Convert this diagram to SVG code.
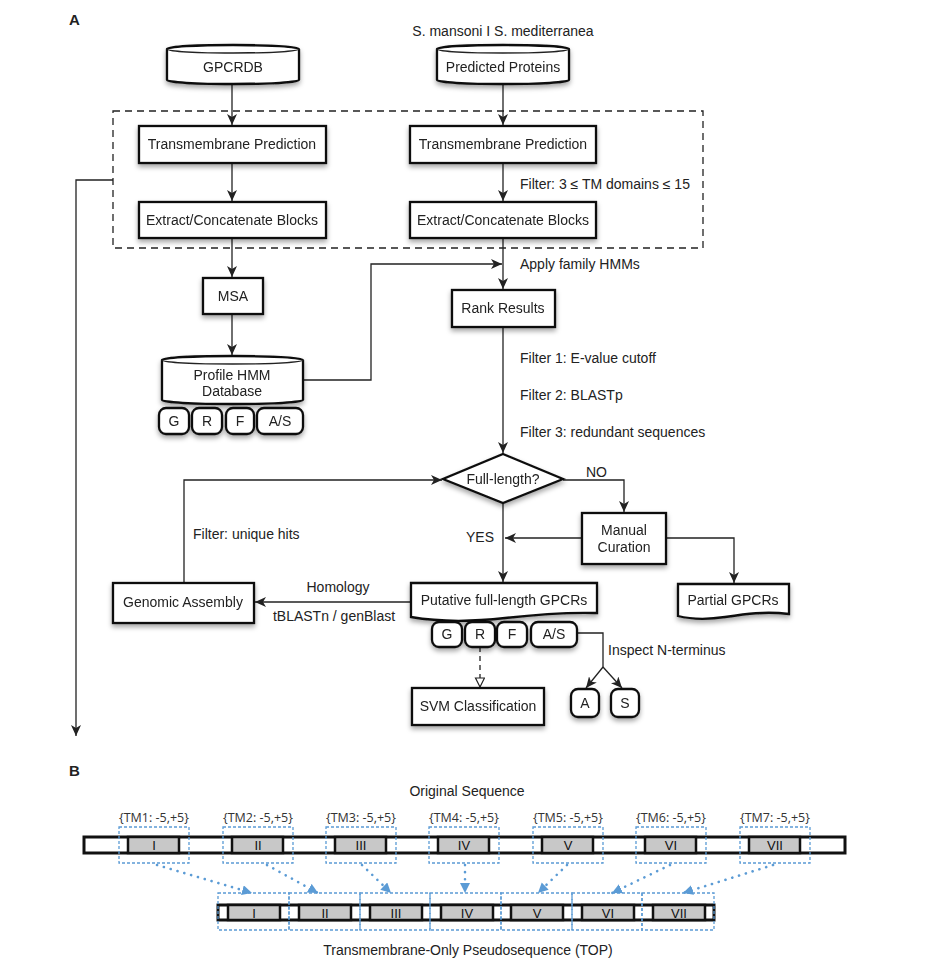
<svg xmlns="http://www.w3.org/2000/svg" width="930" height="970" viewBox="0 0 930 970">
<style>
text{font-family:"Liberation Sans",Arial,sans-serif;font-size:14px;fill:#222}
.c{text-anchor:middle}
.box{fill:#fff;stroke:#111;stroke-width:2.3}
.ln{fill:none;stroke:#222;stroke-width:1.3}
.bl{fill:none;stroke:#5b9bd5;stroke-width:1.3;stroke-dasharray:3 2}
.dot{fill:none;stroke:#5b9bd5;stroke-width:2.6;stroke-linecap:round;stroke-dasharray:0.1 7}
.gr{fill:#c8c8c8;stroke:#111;stroke-width:2.5}
.bar{fill:#fff;stroke:#111;stroke-width:3}
.tb{font-family:"Open Sans","Liberation Sans",sans-serif;font-size:12.5px;fill:#333}
.rn{font-family:"Liberation Sans",Arial,sans-serif;font-size:13px;fill:#111}
</style>
<defs>
<filter id="sh" x="-20%" y="-20%" width="140%" height="160%"><feDropShadow dx="0" dy="3" stdDeviation="2.5" flood-color="#000" flood-opacity="0.35"/></filter>
<marker id="ar" markerUnits="userSpaceOnUse" markerWidth="12" markerHeight="10" refX="11" refY="5" orient="auto"><path d="M0,0 L11,5 L0,10 L3,5 z" fill="#222"/></marker>
<marker id="ot" markerUnits="userSpaceOnUse" markerWidth="12" markerHeight="12" refX="10" refY="5" orient="auto"><path d="M1,0.5 L10,5 L1,9.5 z" fill="#fff" stroke="#222" stroke-width="1.2"/></marker>
<marker id="ba" markerUnits="userSpaceOnUse" markerWidth="12" markerHeight="12" refX="10" refY="5" orient="auto"><path d="M0,0 L10,5 L0,10 z" fill="#5b9bd5"/></marker>
</defs>
<rect width="930" height="970" fill="#fff"/>
<text x="69" y="25" style="font-weight:bold;font-size:15px">A</text>
<text x="69" y="776" style="font-weight:bold;font-size:15px">B</text>

<g id="dashed-group"><rect x="113" y="111" width="590" height="137" fill="none" stroke="#222" stroke-width="1.3" stroke-dasharray="7 5"/></g>

<g id="connectors">
<path class="ln" d="M232,85 V125" marker-end="url(#ar)"/>
<path class="ln" d="M232,163 V201" marker-end="url(#ar)"/>
<path class="ln" d="M232,239 V277" marker-end="url(#ar)"/>
<path class="ln" d="M232,315 V355" marker-end="url(#ar)"/>
<path class="ln" d="M503,85 V125" marker-end="url(#ar)"/>
<path class="ln" d="M503,163 V201" marker-end="url(#ar)"/>
<path class="ln" d="M503,239 V289" marker-end="url(#ar)"/>
<path class="ln" d="M303,380 H371 V264 H502" marker-end="url(#ar)"/>
<path class="ln" d="M503,328 V453" marker-end="url(#ar)"/>
<path class="ln" d="M563,480 H624 V512" marker-end="url(#ar)"/>
<path class="ln" d="M503,504 V582" marker-end="url(#ar)"/>
<path class="ln" d="M582,538 H505" marker-end="url(#ar)"/>
<path class="ln" d="M666,538 H734 V583" marker-end="url(#ar)"/>
<path class="ln" d="M184,583 V480 H442" marker-end="url(#ar)"/>
<path class="ln" d="M411,602 H255" marker-end="url(#ar)"/>
<path class="ln" d="M480,647 V687" stroke-dasharray="5 4" marker-end="url(#ot)"/>
<path class="ln" d="M577,633 H603 V667"/>
<path class="ln" d="M603,667 L586,688" marker-end="url(#ar)"/>
<path class="ln" d="M603,667 L622,688" marker-end="url(#ar)"/>
<path class="ln" d="M113,180 H76 V736" marker-end="url(#ar)"/>
</g>

<g id="labels">
<text class="c" x="503" y="36">S. mansoni I S. mediterranea</text>
<text x="520" y="189">Filter: 3 ≤ TM domains ≤ 15</text>
<text x="520" y="269">Apply family HMMs</text>
<text x="520" y="363">Filter 1: E-value cutoff</text>
<text x="520" y="400">Filter 2: BLASTp</text>
<text x="520" y="437">Filter 3: redundant sequences</text>
<text x="586" y="477">NO</text>
<text x="466" y="542">YES</text>
<text x="193" y="539">Filter: unique hits</text>
<text class="c" x="338" y="592">Homology</text>
<text class="c" x="334" y="621">tBLASTn / genBlast</text>
<text x="608" y="655">Inspect N-terminus</text>
</g>

<g id="gpcrdb" filter="url(#sh)">
<path class="box" d="M167,49 A66,4 0 0,1 299,49 V80 A66,4 0 0,1 167,80 Z"/>
<path class="ln" d="M167,49 A66,4 0 0,0 299,49" stroke-width="1.5"/>
<text class="c" x="233" y="72">GPCRDB</text>
</g>
<g id="predicted-proteins" filter="url(#sh)">
<path class="box" d="M437,49 A66,4 0 0,1 569,49 V80 A66,4 0 0,1 437,80 Z"/>
<path class="ln" d="M437,49 A66,4 0 0,0 569,49" stroke-width="1.5"/>
<text class="c" x="503" y="72">Predicted Proteins</text>
</g>
<g id="tm-left" filter="url(#sh)"><rect class="box" x="139" y="126" width="187" height="37"/><text class="c" x="232" y="149">Transmembrane Prediction</text></g>
<g id="extract-left" filter="url(#sh)"><rect class="box" x="139" y="202" width="187" height="36"/><text class="c" x="232" y="225">Extract/Concatenate Blocks</text></g>
<g id="tm-right" filter="url(#sh)"><rect class="box" x="410" y="126" width="186" height="37"/><text class="c" x="503" y="149">Transmembrane Prediction</text></g>
<g id="extract-right" filter="url(#sh)"><rect class="box" x="410" y="202" width="186" height="36"/><text class="c" x="503" y="225">Extract/Concatenate Blocks</text></g>
<g id="msa" filter="url(#sh)"><rect class="box" x="203" y="278" width="60" height="36"/><text class="c" x="233" y="301">MSA</text></g>
<g id="profile-hmm" filter="url(#sh)">
<path class="box" d="M162,360 A70.5,4 0 0,1 303,360 V400 A70.5,4 0 0,1 162,400 Z"/>
<path class="ln" d="M162,360 A70.5,4 0 0,0 303,360" stroke-width="1.5"/>
<text class="c" x="232" y="380">Profile HMM</text>
<text class="c" x="232" y="396">Database</text>
</g>
<g id="hmm-families" filter="url(#sh)">
<rect class="box" x="159" y="408" width="30" height="26" rx="7"/><text class="c" x="174" y="426">G</text>
<rect class="box" x="192" y="408" width="30" height="26" rx="7"/><text class="c" x="207" y="426">R</text>
<rect class="box" x="226" y="408" width="28" height="26" rx="7"/><text class="c" x="240" y="426">F</text>
<rect class="box" x="257" y="408" width="46" height="26" rx="7"/><text class="c" x="280" y="426">A/S</text>
</g>
<g id="rank-results" filter="url(#sh)"><rect class="box" x="452" y="290" width="103" height="37"/><text class="c" x="503" y="313">Rank Results</text></g>
<g id="full-length" filter="url(#sh)"><path class="box" d="M503,454 L563,479 L503,503 L443,479 Z"/><text class="c" x="503" y="484">Full-length?</text></g>
<g id="manual-curation" filter="url(#sh)"><rect class="box" x="582" y="513" width="84" height="51"/><text class="c" x="624" y="535">Manual</text><text class="c" x="624" y="552">Curation</text></g>
<g id="partial-gpcrs" filter="url(#sh)"><path class="box" d="M678,584 H789 V614 C765,611 745,614 725,617 C705,620 690,619 678,616 Z"/><text class="c" x="733" y="605">Partial GPCRs</text></g>
<g id="genomic-assembly" filter="url(#sh)"><rect class="box" x="113" y="583" width="141" height="40"/><text class="c" x="183" y="607">Genomic Assembly</text></g>
<g id="putative" filter="url(#sh)"><path class="box" d="M411,583 H597 V613 C565,612 540,614 505,618 C470,622 440,622 411,617 Z"/><text class="c" x="504" y="605">Putative full-length GPCRs</text></g>
<g id="putative-families" filter="url(#sh)">
<rect class="box" x="432" y="622" width="30" height="25" rx="7"/><text class="c" x="447" y="639">G</text>
<rect class="box" x="465" y="622" width="30" height="25" rx="7"/><text class="c" x="480" y="639">R</text>
<rect class="box" x="497" y="622" width="30" height="25" rx="7"/><text class="c" x="512" y="639">F</text>
<rect class="box" x="531" y="622" width="46" height="25" rx="7"/><text class="c" x="554" y="639">A/S</text>
</g>
<g id="svm" filter="url(#sh)"><rect class="box" x="412" y="688" width="132" height="37"/><text class="c" x="478" y="711">SVM Classification</text></g>
<g id="a-node" filter="url(#sh)"><rect class="box" x="571" y="689" width="28" height="28" rx="7"/><text class="c" x="585" y="708">A</text></g>
<g id="s-node" filter="url(#sh)"><rect class="box" x="611" y="689" width="28" height="28" rx="7"/><text class="c" x="625" y="708">S</text></g>

<g id="panel-b">
<text class="c" x="467" y="796">Original Sequence</text>
<text class="c" x="468" y="955">Transmembrane-Only Pseudosequence (TOP)</text>
<rect class="bar" x="84" y="837" width="761" height="16"/>
<g id="orig-tms">
<rect class="gr" x="128" y="837" width="51" height="16"/><rect class="gr" x="232" y="837" width="51" height="16"/><rect class="gr" x="335" y="837" width="51" height="16"/><rect class="gr" x="438" y="837" width="51" height="16"/><rect class="gr" x="542" y="837" width="51" height="16"/><rect class="gr" x="645" y="837" width="51" height="16"/><rect class="gr" x="749" y="837" width="51" height="16"/>
<text class="c rn" x="154" y="850">I</text><text class="c rn" x="258" y="850">II</text><text class="c rn" x="361" y="850">III</text><text class="c rn" x="464" y="850">IV</text><text class="c rn" x="568" y="850">V</text><text class="c rn" x="671" y="850">VI</text><text class="c rn" x="775" y="850">VII</text>
<rect class="bl" x="119" y="827" width="70" height="36"/><rect class="bl" x="223" y="827" width="70" height="36"/><rect class="bl" x="326" y="827" width="70" height="36"/><rect class="bl" x="429" y="827" width="70" height="36"/><rect class="bl" x="533" y="827" width="70" height="36"/><rect class="bl" x="636" y="827" width="70" height="36"/><rect class="bl" x="740" y="827" width="70" height="36"/>
<text class="c tb" x="154" y="822">{TM1: -5,+5}</text><text class="c tb" x="258" y="822">{TM2: -5,+5}</text><text class="c tb" x="361" y="822">{TM3: -5,+5}</text><text class="c tb" x="464" y="822">{TM4: -5,+5}</text><text class="c tb" x="568" y="822">{TM5: -5,+5}</text><text class="c tb" x="671" y="822">{TM6: -5,+5}</text><text class="c tb" x="775" y="822">{TM7: -5,+5}</text>
</g>
<rect class="bar" x="218" y="905" width="496" height="15"/>
<g id="top-tms">
<rect class="gr" x="228" y="905" width="52" height="15"/><rect class="gr" x="299" y="905" width="52" height="15"/><rect class="gr" x="370" y="905" width="52" height="15"/><rect class="gr" x="441" y="905" width="52" height="15"/><rect class="gr" x="511" y="905" width="52" height="15"/><rect class="gr" x="582" y="905" width="52" height="15"/><rect class="gr" x="653" y="905" width="52" height="15"/>
<text class="c rn" x="254" y="918">I</text><text class="c rn" x="325" y="918">II</text><text class="c rn" x="396" y="918">III</text><text class="c rn" x="467" y="918">IV</text><text class="c rn" x="537" y="918">V</text><text class="c rn" x="608" y="918">VI</text><text class="c rn" x="679" y="918">VII</text>
<rect class="bl" x="218" y="893" width="71" height="37"/><rect class="bl" x="289" y="893" width="71" height="37"/><rect class="bl" x="360" y="893" width="70" height="37"/><rect class="bl" x="430" y="893" width="71" height="37"/><rect class="bl" x="501" y="893" width="71" height="37"/><rect class="bl" x="572" y="893" width="70" height="37"/><rect class="bl" x="642" y="893" width="72" height="37"/>
</g>
<g id="b-connectors">
<path class="dot" d="M157,865 L252,893" marker-end="url(#ba)"/>
<path class="dot" d="M267,865 L318,893" marker-end="url(#ba)"/>
<path class="dot" d="M362,865 L391,893" marker-end="url(#ba)"/>
<path class="dot" d="M465,865 L465,893" marker-end="url(#ba)"/>
<path class="dot" d="M567,865 L538,893" marker-end="url(#ba)"/>
<path class="dot" d="M670,865 L612,893" marker-end="url(#ba)"/>
<path class="dot" d="M773,865 L683,893" marker-end="url(#ba)"/>
</g>
</g>
</svg>
